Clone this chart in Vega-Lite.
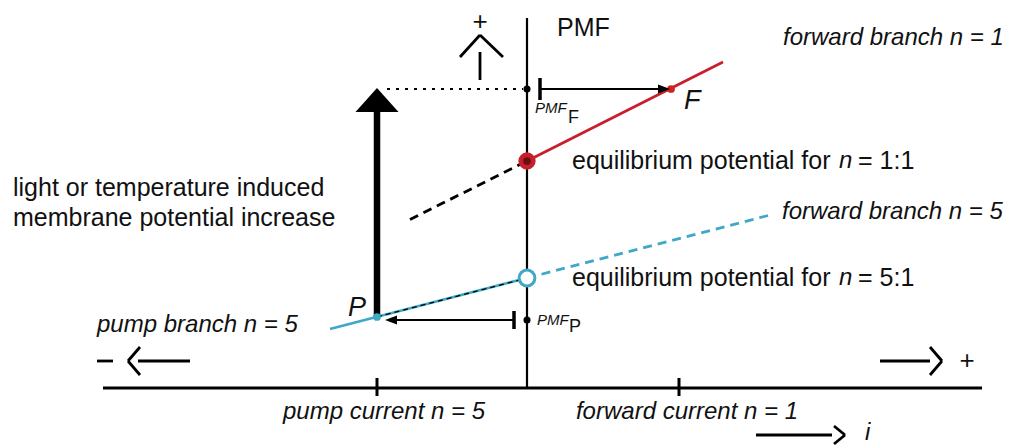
{
  "$schema": "https://vega.github.io/schema/vega-lite/v6.json",
  "width": 1012,
  "height": 446,
  "padding": 0,
  "autosize": {"type": "fit", "contains": "padding"},
  "background": "white",
  "config": {"view": {"stroke": null}, "text": {"font": "Liberation Sans"}},
  "datasets": {
    "segs": [
      {"kind": "axisH", "u": -424, "v": 0, "u2": 455, "v2": 0},
      {"kind": "axisV", "u": 0, "v": 0, "u2": 0, "v2": 370},
      {"kind": "axisH", "u": -150, "v": -8, "u2": -150, "v2": 10},
      {"kind": "axisH", "u": 152, "v": -8, "u2": 152, "v2": 10},
      {"kind": "arrow", "u": 13, "v": 299, "u2": 135, "v2": 299},
      {"kind": "arrow", "u": -13, "v": 68, "u2": -134, "v2": 68},
      {"kind": "sym", "u": -47, "v": 308, "u2": -47, "v2": 336},
      {"kind": "sym", "u": -67, "v": 331, "u2": -47, "v2": 353},
      {"kind": "sym", "u": -47, "v": 353, "u2": -24, "v2": 331},
      {"kind": "sym", "u": -430, "v": 27, "u2": -414, "v2": 27},
      {"kind": "sym", "u": -387, "v": 41, "u2": -399, "v2": 27},
      {"kind": "sym", "u": -399, "v": 27, "u2": -387, "v2": 13},
      {"kind": "sym", "u": -389, "v": 27, "u2": -337, "v2": 27},
      {"kind": "sym", "u": 353, "v": 27, "u2": 403, "v2": 27},
      {"kind": "sym", "u": 403, "v": 41, "u2": 415, "v2": 27},
      {"kind": "sym", "u": 415, "v": 27, "u2": 403, "v2": 13},
      {"kind": "sym", "u": 229, "v": -47, "u2": 305, "v2": -47},
      {"kind": "sym", "u": 307, "v": -38, "u2": 318, "v2": -47},
      {"kind": "sym", "u": 318, "v": -47, "u2": 307, "v2": -56},
      {"kind": "bar", "u": 13, "v": 288, "u2": 13, "v2": 310},
      {"kind": "bar", "u": -13, "v": 59, "u2": -13, "v2": 77},
      {"kind": "dotted", "u": -140, "v": 299, "u2": -4, "v2": 299},
      {"kind": "red", "u": 0, "v": 227, "u2": 196, "v2": 326},
      {"kind": "blackdash", "u": -117, "v": 168.5, "u2": 0, "v2": 227},
      {"kind": "cyan", "u": -197, "v": 59, "u2": 0, "v2": 110},
      {"kind": "cyandash", "u": 0, "v": 110, "u2": 243, "v2": 173},
      {"kind": "thindash", "u": -150, "v": 71, "u2": 0, "v2": 110},
      {"kind": "thick", "u": -150, "v": 71, "u2": -150, "v2": 282}
    ],
    "pts": [
      {"kind": "dotblack", "u": 0, "v": 299},
      {"kind": "dotblack", "u": 0, "v": 68},
      {"kind": "bigred", "u": 0, "v": 227},
      {"kind": "dotred", "u": 144, "v": 299},
      {"kind": "opencyan", "u": 0, "v": 110},
      {"kind": "dotcyan", "u": -150, "v": 71},
      {"kind": "headR", "u": 137, "v": 299},
      {"kind": "headL", "u": -136, "v": 68},
      {"kind": "headUp", "u": -150, "v": 288}
    ],
    "texts": [
      {"kind": "reg", "u": 30, "v": 360, "label": "PMF"},
      {"kind": "reg", "u": -514, "v": 200, "label": "light or temperature induced"},
      {"kind": "reg", "u": -514, "v": 170, "label": "membrane potential increase"},
      {"kind": "reg", "u": 45, "v": 227, "label": "equilibrium potential for"},
      {"kind": "ital", "u": 312, "v": 227, "label": "n"},
      {"kind": "reg", "u": 331, "v": 227, "label": "= 1:1"},
      {"kind": "reg", "u": 45, "v": 110, "label": "equilibrium potential for"},
      {"kind": "ital", "u": 312, "v": 110, "label": "n"},
      {"kind": "reg", "u": 331, "v": 110, "label": "= 5:1"},
      {"kind": "ital", "u": 256, "v": 350, "label": "forward branch n = 1"},
      {"kind": "ital", "u": 255, "v": 176, "label": "forward branch n = 5"},
      {"kind": "ital", "u": -430, "v": 63, "label": "pump branch n = 5"},
      {"kind": "ital", "u": 338, "v": -45, "label": "i"},
      {"kind": "big", "u": 157, "v": 287, "label": "F"},
      {"kind": "big", "u": -179, "v": 80, "label": "P"},
      {"kind": "tick", "u": -143, "v": -24, "label": "pump current n = 5"},
      {"kind": "tick", "u": 160, "v": -24, "label": "forward current n = 1"},
      {"kind": "plus", "u": -47, "v": 366, "label": "+"},
      {"kind": "plus", "u": 440, "v": 27, "label": "+"},
      {"kind": "small", "u": 8, "v": 280, "label": "PMF"},
      {"kind": "small", "u": 10, "v": 68, "label": "PMF"},
      {"kind": "sub", "u": 41, "v": 270, "label": "F"},
      {"kind": "sub", "u": 42, "v": 61, "label": "P"}
    ]
  },
  "encoding": {
    "x": {"field": "u", "type": "quantitative", "scale": {"domain": [-527, 485], "nice": false, "zero": false}, "axis": null},
    "y": {"field": "v", "type": "quantitative", "scale": {"domain": [-58, 388], "nice": false, "zero": false}, "axis": null}
  },
  "layer": [
    {"data": {"name": "segs"}, "transform": [{"filter": "datum.kind === 'axisH'"}], "mark": {"type": "rule", "strokeWidth": 3, "color": "black"}, "encoding": {"x2": {"field": "u2"}, "y2": {"field": "v2"}}},
    {"data": {"name": "segs"}, "transform": [{"filter": "datum.kind === 'axisV'"}], "mark": {"type": "rule", "strokeWidth": 2.2, "color": "black"}, "encoding": {"x2": {"field": "u2"}, "y2": {"field": "v2"}}},
    {"data": {"name": "segs"}, "transform": [{"filter": "datum.kind === 'arrow'"}], "mark": {"type": "rule", "strokeWidth": 2, "color": "black"}, "encoding": {"x2": {"field": "u2"}, "y2": {"field": "v2"}}},
    {"data": {"name": "segs"}, "transform": [{"filter": "datum.kind === 'sym'"}], "mark": {"type": "rule", "strokeWidth": 2.8, "color": "black"}, "encoding": {"x2": {"field": "u2"}, "y2": {"field": "v2"}}},
    {"data": {"name": "segs"}, "transform": [{"filter": "datum.kind === 'bar'"}], "mark": {"type": "rule", "strokeWidth": 3.5, "color": "black"}, "encoding": {"x2": {"field": "u2"}, "y2": {"field": "v2"}}},
    {"data": {"name": "segs"}, "transform": [{"filter": "datum.kind === 'dotted'"}], "mark": {"type": "rule", "strokeWidth": 2.2, "strokeDash": [3, 6], "color": "black"}, "encoding": {"x2": {"field": "u2"}, "y2": {"field": "v2"}}},
    {"data": {"name": "segs"}, "transform": [{"filter": "datum.kind === 'red'"}], "mark": {"type": "rule", "strokeWidth": 2.8, "color": "#c8202a"}, "encoding": {"x2": {"field": "u2"}, "y2": {"field": "v2"}}},
    {"data": {"name": "segs"}, "transform": [{"filter": "datum.kind === 'blackdash'"}], "mark": {"type": "rule", "strokeWidth": 2.8, "strokeDash": [9, 6], "color": "black"}, "encoding": {"x2": {"field": "u2"}, "y2": {"field": "v2"}}},
    {"data": {"name": "segs"}, "transform": [{"filter": "datum.kind === 'cyan'"}], "mark": {"type": "rule", "strokeWidth": 2.6, "color": "#3fa8c6"}, "encoding": {"x2": {"field": "u2"}, "y2": {"field": "v2"}}},
    {"data": {"name": "segs"}, "transform": [{"filter": "datum.kind === 'cyandash'"}], "mark": {"type": "rule", "strokeWidth": 2.8, "strokeDash": [9, 6], "color": "#3fa8c6"}, "encoding": {"x2": {"field": "u2"}, "y2": {"field": "v2"}}},
    {"data": {"name": "segs"}, "transform": [{"filter": "datum.kind === 'thindash'"}], "mark": {"type": "rule", "strokeWidth": 1.3, "strokeDash": [5, 4], "color": "black"}, "encoding": {"x2": {"field": "u2"}, "y2": {"field": "v2"}}},
    {"data": {"name": "segs"}, "transform": [{"filter": "datum.kind === 'thick'"}], "mark": {"type": "rule", "strokeWidth": 6.5, "color": "black"}, "encoding": {"x2": {"field": "u2"}, "y2": {"field": "v2"}}},
    {"data": {"name": "pts"}, "transform": [{"filter": "datum.kind === 'dotblack'"}], "mark": {"type": "point", "filled": true, "size": 50, "color": "black", "opacity": 1}},
    {"data": {"name": "pts"}, "transform": [{"filter": "datum.kind === 'bigred'"}], "mark": {"type": "point", "filled": true, "size": 300, "color": "#c8202a", "opacity": 1}},
    {"data": {"name": "pts"}, "transform": [{"filter": "datum.kind === 'bigred'"}], "mark": {"type": "point", "filled": true, "size": 60, "color": "#6a1015", "opacity": 1}},
    {"data": {"name": "pts"}, "transform": [{"filter": "datum.kind === 'dotred'"}], "mark": {"type": "point", "filled": true, "size": 60, "color": "#d42020", "opacity": 1}},
    {"data": {"name": "pts"}, "transform": [{"filter": "datum.kind === 'opencyan'"}], "mark": {"type": "point", "filled": false, "size": 250, "stroke": "#3fa8c6", "fill": "white", "fillOpacity": 1, "strokeWidth": 3, "opacity": 1}},
    {"data": {"name": "pts"}, "transform": [{"filter": "datum.kind === 'dotcyan'"}], "mark": {"type": "point", "filled": true, "size": 60, "color": "#3fa8c6", "opacity": 1}},
    {"data": {"name": "pts"}, "transform": [{"filter": "datum.kind === 'headR'"}], "mark": {"type": "point", "filled": true, "size": 144, "shape": "M-1,-0.75L1,0L-1,0.75Z", "color": "black", "opacity": 1}},
    {"data": {"name": "pts"}, "transform": [{"filter": "datum.kind === 'headL'"}], "mark": {"type": "point", "filled": true, "size": 144, "shape": "M1,-0.75L-1,0L1,0.75Z", "color": "black", "opacity": 1}},
    {"data": {"name": "pts"}, "transform": [{"filter": "datum.kind === 'headUp'"}], "mark": {"type": "point", "filled": true, "size": 1849, "shape": "M-1,0.56L0,-0.56L1,0.56Z", "color": "black", "opacity": 1}},
    {"data": {"name": "texts"}, "transform": [{"filter": "datum.kind === 'reg'"}], "mark": {"type": "text", "fontSize": 25, "align": "left", "baseline": "middle", "color": "#111"}, "encoding": {"text": {"field": "label"}}},
    {"data": {"name": "texts"}, "transform": [{"filter": "datum.kind === 'ital'"}], "mark": {"type": "text", "fontSize": 24, "fontStyle": "italic", "align": "left", "baseline": "middle", "color": "#111"}, "encoding": {"text": {"field": "label"}}},
    {"data": {"name": "texts"}, "transform": [{"filter": "datum.kind === 'big'"}], "mark": {"type": "text", "fontSize": 27, "fontStyle": "italic", "align": "left", "baseline": "middle", "color": "#111"}, "encoding": {"text": {"field": "label"}}},
    {"data": {"name": "texts"}, "transform": [{"filter": "datum.kind === 'tick'"}], "mark": {"type": "text", "fontSize": 24, "fontStyle": "italic", "align": "center", "baseline": "middle", "color": "#111"}, "encoding": {"text": {"field": "label"}}},
    {"data": {"name": "texts"}, "transform": [{"filter": "datum.kind === 'plus'"}], "mark": {"type": "text", "fontSize": 26, "align": "center", "baseline": "middle", "color": "#111"}, "encoding": {"text": {"field": "label"}}},
    {"data": {"name": "texts"}, "transform": [{"filter": "datum.kind === 'small'"}], "mark": {"type": "text", "fontSize": 15, "fontStyle": "italic", "align": "left", "baseline": "middle", "color": "#111"}, "encoding": {"text": {"field": "label"}}},
    {"data": {"name": "texts"}, "transform": [{"filter": "datum.kind === 'sub'"}], "mark": {"type": "text", "fontSize": 18, "align": "left", "baseline": "middle", "color": "#111"}, "encoding": {"text": {"field": "label"}}}
  ]
}
